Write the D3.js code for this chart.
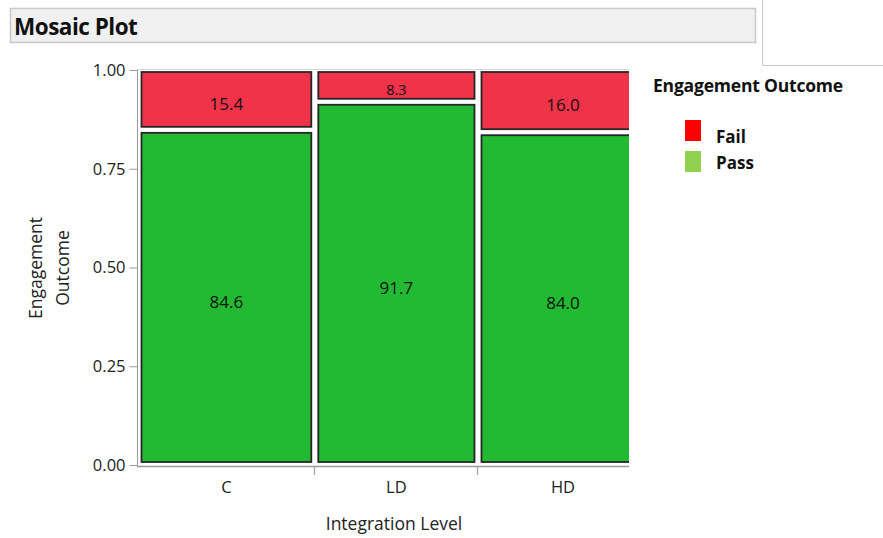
<!DOCTYPE html>
<html>
<head>
<meta charset="utf-8">
<script src="https://cdn.jsdelivr.net/npm/d3@7"></script>
<style>
html,body{margin:0;padding:0;background:#fff;}
svg{display:block;}
text{font-family:"Open Sans","Noto Sans",sans-serif;}
</style>
</head>
<body>
<svg id="chart" width="883" height="538"></svg>
<script>
// ---- data ----
const categories = ["C", "LD", "HD"];
const groupCounts = [26, 24, 25];
const failPct = [15.4, 8.3, 16.0];
const passPct = [84.6, 91.7, 84.0];
const outcomes = ["Fail", "Pass"];
const yTicks = [0, 0.25, 0.5, 0.75, 1.0];
const title = "Mosaic Plot";
const xTitle = "Integration Level";
const yTitle = ["Engagement", "Outcome"];
const legendTitle = "Engagement Outcome";

// ---- styles ----
const cellFill = {Fail: "#F03349", Pass: "#21BA32"};
const legendFill = {Fail: "#FF0000", Pass: "#92D050"};

const svg = d3.select("#chart");
const total = d3.sum(groupCounts);

const x = d3.scaleLinear().domain([0, total]).range([137, 647]);
const y = d3.scaleLinear().domain([0, 1]).range([465, 70]);
const clipRight = 629;

// title bar
svg.append("rect").attr("x", 10.5).attr("y", 8.5).attr("width", 745).attr("height", 34)
  .attr("fill", "#F0F0F0").attr("stroke", "#C8C8C8").attr("stroke-width", 1.5);
svg.append("text").attr("x", 14).attr("y", 35).text(title)
  .attr("font-size", 22.5).attr("font-weight", "bold").attr("fill", "#111")
  .attr("letter-spacing", -0.5);
// top-right panel lines
svg.append("line").attr("x1", 762.5).attr("x2", 762.5).attr("y1", 0).attr("y2", 65.5)
  .attr("stroke", "#C8C8C8");
svg.append("line").attr("x1", 762.5).attr("x2", 883).attr("y1", 65.5).attr("y2", 65.5)
  .attr("stroke", "#C8C8C8");

// clip
svg.append("defs").append("clipPath").attr("id", "plotclip")
  .append("rect").attr("x", 0).attr("y", 0).attr("width", clipRight).attr("height", 538);

// frame
svg.append("line").attr("x1", 137).attr("x2", clipRight).attr("y1", 69.5).attr("y2", 69.5)
  .attr("stroke", "#D4D4D4").attr("stroke-width", 1);

// cells
const cum = d3.cumsum([0].concat(groupCounts));
const cells = [];
categories.forEach((c, i) => {
  const x0 = x(cum[i]), x1 = x(cum[i + 1]);
  const pf = passPct[i] / 100;
  cells.push({cat: c, outcome: "Fail", x0, x1, y0: y(1) + 2, y1: y(pf) - 4, label: failPct[i].toFixed(1), small: failPct[i] < 10});
  cells.push({cat: c, outcome: "Pass", x0, x1, y0: y(pf) + 2, y1: y(0) - 3, label: passPct[i].toFixed(1), small: false});
});

const g = svg.append("g").attr("clip-path", "url(#plotclip)");
g.selectAll("rect.cell").data(cells).join("rect").attr("class", "cell")
  .attr("x", d => d.x0 + 4.5)
  .attr("y", d => d.y0)
  .attr("width", d => d.x1 - d.x0 - 7)
  .attr("height", d => d.y1 - d.y0)
  .attr("fill", d => cellFill[d.outcome])
  .attr("stroke", "#262626").attr("stroke-width", 1.8);

g.selectAll("text.cl").data(cells).join("text").attr("class", "cl")
  .attr("x", d => (d.x0 + 4.5 + d.x1 - 2.5) / 2)
  .attr("y", d => (d.y0 + d.y1) / 2 + 4)
  .attr("text-anchor", "middle").attr("dominant-baseline", "central")
  .attr("font-size", d => d.small ? 14.5 : 17).attr("fill", "#111")
  .text(d => d.label);

// y axis
const yAxis = d3.axisLeft(y).tickValues(yTicks).tickFormat(d3.format(".2f")).tickSize(8).tickPadding(4);
const ya = svg.append("g").attr("transform", "translate(137.5,0)").call(yAxis);
ya.select(".domain").attr("stroke", "#9A9A9A").attr("d", "M0,70V466");
ya.selectAll(".tick line").attr("stroke", "#9A9A9A");
ya.selectAll(".tick text").attr("font-size", 16.5).attr("fill", "#222")
  .attr("font-family", "'Open Sans','Noto Sans',sans-serif");

// x axis (category boundaries)
const xa = svg.append("g");
xa.append("line").attr("x1", 137).attr("x2", clipRight).attr("y1", 466.5).attr("y2", 466.5)
  .attr("stroke", "#9A9A9A").attr("stroke-width", 1.5);
xa.selectAll("line.bt").data(cum.slice(1, -1)).join("line").attr("class", "bt")
  .attr("x1", d => Math.round(x(d)) + 0.5).attr("x2", d => Math.round(x(d)) + 0.5)
  .attr("y1", 467).attr("y2", 475).attr("stroke", "#B0B0B0").attr("stroke-width", 1.5);
xa.selectAll("text.cat").data(categories).join("text").attr("class", "cat")
  .attr("x", (d, i) => (x(cum[i]) + 4.5 + x(cum[i + 1]) - 2.5) / 2)
  .attr("y", 493).attr("text-anchor", "middle").attr("font-size", 16.5).attr("fill", "#222")
  .text(d => d);

svg.append("text").attr("x", 394).attr("y", 530).attr("text-anchor", "middle")
  .attr("font-size", 17.5).attr("fill", "#222").text(xTitle);

// y title
const yt = svg.append("text").attr("transform", "translate(0,268) rotate(-90)")
  .attr("text-anchor", "middle").attr("font-size", 17.5).attr("fill", "#222");
yt.selectAll("tspan").data(yTitle).join("tspan")
  .attr("x", 0).attr("y", (d, i) => 42 + i * 27).text(d => d);

// legend
svg.append("text").attr("x", 653).attr("y", 92).attr("font-size", 17.5).attr("font-weight", "bold")
  .attr("fill", "#111").attr("letter-spacing", -0.2).text(legendTitle);
const lg = svg.selectAll("g.lg").data(outcomes).join("g").attr("class", "lg");
lg.append("rect").attr("x", 685).attr("y", (d, i) => 120 + i * 31)
  .attr("width", 16).attr("height", 21).attr("fill", d => legendFill[d]);
lg.append("text").attr("x", 716).attr("y", (d, i) => 143 + i * 26).attr("font-size", 17).attr("font-weight", "bold")
  .attr("fill", "#111").text(d => d);
</script>
</body>
</html>
